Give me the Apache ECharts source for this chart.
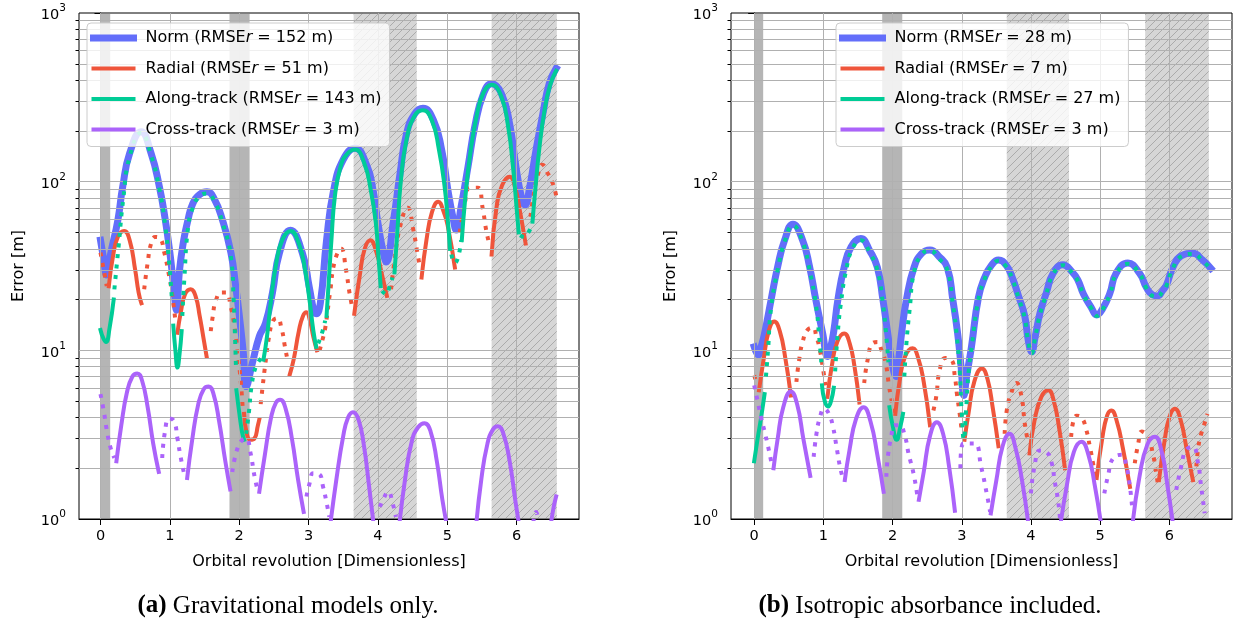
<!DOCTYPE html>
<html>
<head>
<meta charset="utf-8">
<script src="https://cdn.jsdelivr.net/npm/echarts@6/dist/echarts.min.js"></script>
<style>
  html, body { margin: 0; padding: 0; background: #fff; }
  #chart { width: 1233px; height: 628px; }
</style>
</head>
<body>
<div id="chart"></div>
<script>
// ---------------------------------------------------------------
// Position error of the propagated orbit over ~6.6 revolutions.
// Each component is split into segments: solid = positive error,
// dotted = negative error (plotted as magnitude on a log axis).
// Points are [orbital revolution, error in metres].
// ---------------------------------------------------------------

const componentNames = ['Norm', 'Radial', 'Along-track', 'Cross-track'];
const xTickValues = [0, 1, 2, 3, 4, 5, 6];
const yMinorTicks = [2, 3, 4, 5, 6, 7, 8, 9, 20, 30, 40, 50, 60, 70, 80, 90,
                     200, 300, 400, 500, 600, 700, 800, 900];
const yGridValues = [2, 3, 4, 5, 6, 7, 8, 9, 10, 20, 30, 40, 50, 60, 70, 80, 90, 100,
                     200, 300, 400, 500, 600, 700, 800, 900];

// ---------- (a) gravitational models only ----------
const gravRmse = [152, 51, 143, 3];
const gravDarkSpans = [[0, 0.14], [1.86, 2.15]];
const gravHatchSpans = [[3.65, 4.56], [5.64, 6.58]];

const gravNorm = [[
  [0, 45], [0.04, 36], [0.09, 28], [0.15, 38], [0.25, 59], [0.32, 93], [0.42, 147], [0.585, 198],
  [0.73, 147], [0.85, 93], [0.935, 59], [1.0, 38], [1.055, 24], [1.095, 17.3],
  [1.14, 30], [1.2, 45], [1.26, 59], [1.33, 74], [1.43, 84], [1.535, 87], [1.64, 79], [1.76, 59],
  [1.88, 38], [1.95, 24], [2.01, 15], [2.06, 9.6], [2.10, 6.1],
  [2.19, 8.4], [2.29, 12.1], [2.38, 14.5], [2.48, 22], [2.58, 37.8], [2.74, 51.5], [2.91, 37.8],
  [3.01, 23.8], [3.08, 16.9], [3.11, 16.5],
  [3.17, 19], [3.26, 45], [3.36, 88], [3.50, 135], [3.67, 158], [3.84, 125], [3.93, 89], [4.0, 57],
  [4.08, 37.6], [4.12, 33.4],
  [4.22, 57], [4.32, 112], [4.41, 190], [4.53, 252], [4.65, 272], [4.80, 232], [4.92, 154],
  [5.01, 89], [5.08, 62], [5.13, 51.7],
  [5.20, 71], [5.30, 123], [5.40, 215], [5.52, 330], [5.64, 381], [5.78, 334], [5.90, 220],
  [5.99, 123], [6.07, 81], [6.12, 72.7],
  [6.19, 93.5], [6.28, 154], [6.38, 254], [6.47, 381], [6.57, 470]
]];

const gravRadialPos = [
  [[0.12, 24], [0.18, 36], [0.25, 47], [0.34, 51], [0.42, 45], [0.50, 30], [0.55, 22], [0.59, 19]],
  [[1.11, 12.7], [1.16, 17], [1.22, 21.5], [1.30, 23], [1.37, 21], [1.43, 16], [1.49, 11.5], [1.53, 9.2]],
  [[2.07, 4.2], [2.11, 3.2], [2.16, 2.95], [2.22, 3.0], [2.27, 3.6], [2.29, 3.9]],
  [[2.73, 7.2], [2.79, 9], [2.86, 13], [2.92, 16], [2.97, 16.8], [3.02, 15], [3.07, 12], [3.12, 10]],
  [[3.66, 16.5], [3.74, 28], [3.81, 40], [3.89, 45], [3.98, 38], [4.06, 28], [4.13, 21]],
  [[4.63, 27], [4.70, 45], [4.78, 66], [4.87, 76], [4.95, 66], [5.01, 54], [5.11, 31]],
  [[5.64, 37], [5.71, 70], [5.79, 95], [5.90, 107], [5.98, 92], [6.04, 70], [6.13, 43]]
];
const gravRadialNeg = [
  [[0, 38], [0.04, 31], [0.09, 24]],
  [[0.63, 23], [0.68, 33], [0.73, 43], [0.79, 47], [0.86, 46], [0.92, 38], [0.98, 29], [1.03, 22], [1.08, 15]],
  [[1.59, 13], [1.62, 16], [1.66, 19.5], [1.74, 22], [1.81, 22], [1.88, 18], [1.93, 14], [1.98, 9.6],
   [2.02, 6.7], [2.05, 4.6]],
  [[2.31, 4.8], [2.34, 6.2], [2.38, 8.5], [2.43, 12], [2.49, 15], [2.55, 15.5], [2.61, 13.5], [2.66, 10.5],
   [2.70, 8.6]],
  [[3.16, 10], [3.20, 11.5], [3.24, 13.5], [3.31, 22], [3.38, 34], [3.47, 40], [3.54, 30], [3.59, 22], [3.63, 18]],
  [[4.19, 23], [4.24, 34], [4.32, 54], [4.43, 70], [4.51, 52], [4.56, 40], [4.60, 32]],
  [[5.18, 50], [5.24, 68], [5.33, 92], [5.44, 92], [5.51, 70], [5.56, 52], [5.61, 42]],
  [[6.20, 62], [6.25, 85], [6.32, 115], [6.37, 126], [6.45, 112], [6.52, 98], [6.57, 83]]
];

const gravAlongPos = [
  [[0, 13.2], [0.04, 11.8], [0.08, 11.2], [0.13, 13.5], [0.19, 20]],
  [[1.05, 14], [1.08, 10], [1.11, 7.9], [1.14, 9.5], [1.17, 13]],
  [[1.96, 5.8], [2.0, 4.3], [2.04, 3.3], [2.07, 2.95]],
  [[2.35, 8.8], [2.40, 12], [2.46, 20], [2.53, 32], [2.62, 45], [2.74, 51], [2.86, 43], [2.95, 30],
   [3.02, 19], [3.07, 13], [3.11, 10.5]],
  [[3.26, 16], [3.29, 25], [3.33, 45], [3.38, 82], [3.46, 122], [3.55, 145], [3.67, 155], [3.80, 130],
   [3.90, 88], [3.97, 57], [4.01, 35], [4.04, 24]],
  [[4.24, 29], [4.28, 50], [4.33, 100], [4.41, 175], [4.53, 246], [4.65, 265], [4.78, 230], [4.88, 155],
   [4.96, 95], [5.01, 58], [5.04, 40]],
  [[5.21, 45], [5.26, 80], [5.33, 145], [5.42, 240], [5.52, 335], [5.64, 375], [5.78, 320], [5.88, 210],
   [5.95, 120], [6.0, 70], [6.03, 50]],
  [[6.23, 58], [6.27, 90], [6.33, 160], [6.40, 260], [6.48, 370], [6.57, 455]]
];
const gravAlongNeg = [
  [[0.20, 23], [0.26, 41], [0.33, 80], [0.42, 140], [0.585, 195], [0.73, 143], [0.85, 90], [0.93, 56],
   [0.99, 33], [1.03, 20]],
  [[1.18, 16], [1.21, 27], [1.26, 52], [1.33, 70], [1.43, 82], [1.535, 85], [1.64, 77], [1.76, 57],
   [1.88, 36], [1.92, 20], [1.94, 12], [1.955, 7.5]],
  [[2.10, 3.2], [2.14, 4.3], [2.18, 6.2], [2.24, 8.0], [2.32, 9.0]],
  [[3.14, 11], [3.19, 12.5], [3.24, 15]],
  [[4.06, 22.5], [4.12, 21.5], [4.17, 24], [4.21, 27]],
  [[5.06, 37], [5.11, 33], [5.16, 36], [5.20, 45]],
  [[6.05, 48], [6.11, 47], [6.17, 50], [6.21, 54]]
];

const gravCrossPos = [
  [[0.23, 2.2], [0.3, 3.6], [0.38, 5.6], [0.46, 7.0], [0.53, 7.3], [0.6, 6.6], [0.68, 4.6], [0.76, 2.8], [0.84, 1.9]],
  [[1.25, 1.75], [1.32, 2.9], [1.41, 4.8], [1.49, 5.9], [1.56, 6.1], [1.63, 5.5], [1.71, 3.8], [1.8, 2.2], [1.87, 1.5]],
  [[2.29, 1.45], [2.37, 2.4], [2.46, 4.0], [2.53, 4.9], [2.59, 5.1], [2.67, 4.5], [2.76, 3.0], [2.85, 1.7], [2.93, 1.1]],
  [[3.31, 0.9], [3.4, 1.7], [3.5, 3.1], [3.57, 4.0], [3.64, 4.3], [3.72, 3.9], [3.8, 2.7], [3.87, 1.6], [3.95, 0.85]],
  [[4.30, 0.85], [4.39, 1.7], [4.49, 2.9], [4.58, 3.5], [4.67, 3.7], [4.76, 3.3], [4.85, 2.2], [4.93, 1.3], [5.01, 0.85]],
  [[5.41, 0.85], [5.49, 1.7], [5.58, 2.8], [5.66, 3.4], [5.73, 3.55], [5.81, 3.2], [5.9, 2.2], [5.98, 1.3], [6.05, 0.85]],
  [[6.49, 0.9], [6.53, 1.15], [6.57, 1.36]]
];
const gravCrossNeg = [
  [[0, 5.5], [0.05, 4.3], [0.1, 3.2], [0.15, 2.6], [0.2, 2.3]],
  [[0.89, 2.3], [0.93, 3.3], [0.99, 3.95], [1.06, 3.8], [1.11, 3.0], [1.15, 2.4], [1.2, 1.9]],
  [[1.9, 1.9], [1.96, 2.5], [2.03, 2.9], [2.1, 3.0], [2.16, 2.5], [2.22, 1.8], [2.27, 1.45]],
  [[2.97, 1.36], [3.01, 1.6], [3.07, 1.87], [3.15, 1.85], [3.21, 1.55], [3.26, 1.25], [3.3, 1.03]],
  [[4.03, 1.18], [4.08, 1.32], [4.15, 1.45], [4.21, 1.25], [4.26, 1.03]],
  [[6.24, 0.95], [6.28, 1.1], [6.32, 0.95]]
];

// ---------- (b) isotropic absorbance included ----------
const absRmse = [28, 7, 27, 3];
const absDarkSpans = [[0, 0.13], [1.85, 2.14]];
const absHatchSpans = [[3.65, 4.55], [5.65, 6.57]];

const absNorm = [[
  [0, 10.5], [0.06, 9.4], [0.1, 10.5], [0.15, 12.6], [0.245, 20], [0.34, 31.4], [0.44, 45], [0.56, 56],
  [0.70, 45], [0.80, 31.4], [0.89, 20], [0.99, 12.6], [1.06, 9.2],
  [1.1, 10.2], [1.15, 13], [1.21, 20], [1.30, 31], [1.40, 41], [1.54, 46], [1.67, 39], [1.78, 31],
  [1.86, 20], [1.93, 12.6], [1.99, 8.5], [2.05, 7.0],
  [2.09, 9], [2.13, 12.6], [2.20, 20], [2.31, 31], [2.42, 37.5], [2.54, 39.4], [2.67, 36], [2.79, 31],
  [2.87, 20], [2.94, 12.6], [2.99, 8], [3.03, 5.4],
  [3.07, 7], [3.14, 10.5], [3.24, 20.5], [3.33, 27], [3.43, 32], [3.53, 34.3], [3.64, 32], [3.73, 27],
  [3.82, 21], [3.91, 16], [3.96, 11.5], [4.01, 9.8],
  [4.06, 12], [4.13, 16.6], [4.22, 21.8], [4.32, 28.6], [4.46, 32.2], [4.60, 29], [4.68, 26], [4.76, 21.5],
  [4.87, 18], [4.95, 16.2],
  [5.03, 17.5], [5.14, 21.8], [5.23, 28.6], [5.40, 32.9], [5.57, 28.6], [5.67, 23.5], [5.76, 21.3], [5.83, 21.0],
  [5.90, 22.5], [5.96, 24.5], [6.05, 31], [6.17, 36.3], [6.34, 37.6], [6.48, 34.3], [6.60, 30.6]
]];

const absRadialPos = [
  [[0.07, 5.8], [0.14, 9], [0.21, 13], [0.29, 14.8], [0.37, 13], [0.45, 9], [0.53, 5.4]],
  [[1.06, 5.3], [1.12, 8], [1.2, 11.2], [1.30, 12.6], [1.38, 11], [1.45, 8], [1.52, 4.9]],
  [[2.04, 4.2], [2.1, 6.5], [2.18, 9.2], [2.29, 10.3], [2.37, 9], [2.45, 6.5], [2.54, 3.6]],
  [[3.04, 2.95], [3.1, 4.3], [3.18, 6.5], [3.29, 7.8], [3.37, 6.8], [3.45, 4.5], [3.53, 2.7]],
  [[3.98, 2.45], [4.05, 3.8], [4.15, 5.3], [4.25, 5.8], [4.33, 5.0], [4.41, 3.4], [4.49, 2.0]],
  [[4.95, 1.75], [5.03, 3.0], [5.10, 4.1], [5.16, 4.4], [5.24, 3.8], [5.33, 2.6], [5.43, 1.55]],
  [[5.85, 1.7], [5.93, 2.9], [6.0, 4.0], [6.08, 4.5], [6.16, 3.9], [6.25, 2.6], [6.34, 1.7]]
];
const absRadialNeg = [
  [[0, 7.1], [0.04, 6.3]],
  [[0.61, 6.5], [0.65, 8.8], [0.70, 11.2], [0.77, 13.2], [0.85, 13.6], [0.9, 12], [0.94, 10.5], [0.99, 8], [1.03, 6.2]],
  [[1.59, 6.4], [1.64, 8.8], [1.71, 11], [1.78, 11.2], [1.84, 10], [1.90, 8.4], [1.95, 6.1], [2.0, 4.65], [2.02, 3.9]],
  [[2.59, 4.4], [2.63, 5.3], [2.68, 7.6], [2.76, 9], [2.85, 8.8], [2.90, 7], [2.93, 5.5], [2.97, 4.2], [3.0, 3.3]],
  [[3.62, 3.2], [3.65, 4.4], [3.71, 5.5], [3.79, 6.4], [3.86, 5.4], [3.91, 3.7], [3.95, 2.95]],
  [[4.58, 3.07], [4.66, 4.1], [4.73, 4.0], [4.80, 3.37], [4.85, 2.7], [4.90, 2.1], [4.93, 1.75]],
  [[5.50, 2.14], [5.55, 2.8], [5.60, 3.3], [5.69, 3.07], [5.76, 2.45], [5.81, 1.87], [5.83, 1.65]],
  [[6.39, 2.05], [6.42, 2.7], [6.46, 3.2], [6.51, 3.7], [6.55, 4.2]]
];

const absAlongPos = [
  [[0, 2.2], [0.05, 3.0], [0.1, 4.0], [0.15, 5.5]],
  [[0.98, 6.2], [1.02, 5.0], [1.07, 4.65], [1.11, 5.0], [1.15, 6]],
  [[1.955, 4.6], [2.0, 3.6], [2.06, 2.95], [2.11, 3.5], [2.15, 4.2]]
];
const absAlongNeg = [
  [[0.17, 7], [0.2, 10], [0.245, 18], [0.34, 30], [0.44, 44], [0.56, 55], [0.70, 44], [0.80, 30], [0.89, 19],
   [0.94, 12], [0.97, 8.5]],
  [[1.17, 7.5], [1.21, 13], [1.26, 20], [1.33, 30], [1.42, 40], [1.54, 45], [1.67, 38], [1.78, 30], [1.86, 19],
   [1.91, 12], [1.94, 8.5]],
  [[2.17, 7], [2.2, 11], [2.25, 18], [2.31, 29], [2.42, 37], [2.54, 39], [2.67, 35], [2.79, 30], [2.87, 19],
   [2.93, 12], [2.97, 7.5], [3.0, 4.2], [3.03, 2.95], [3.06, 4.3], [3.1, 7.5], [3.15, 11], [3.24, 20],
   [3.33, 26.5], [3.43, 31.5], [3.53, 34], [3.64, 31.5], [3.73, 26.5], [3.82, 20.5], [3.91, 15.5], [3.96, 11.3],
   [4.01, 9.6], [4.06, 11.8], [4.13, 16.3], [4.22, 21.5], [4.32, 28.3], [4.46, 32], [4.60, 28.7], [4.68, 25.7],
   [4.76, 21.3], [4.87, 17.8], [4.95, 16], [5.03, 17.3], [5.14, 21.5], [5.23, 28.3], [5.40, 32.6], [5.57, 28.3],
   [5.67, 23.3], [5.76, 21], [5.83, 20.8], [5.90, 22.3], [5.96, 24.3], [6.05, 30.7], [6.17, 36], [6.34, 37.3],
   [6.48, 34], [6.60, 30.3]]
];

const absCrossPos = [
  [[0.28, 2.0], [0.34, 3.0], [0.42, 4.6], [0.53, 5.7], [0.62, 4.8], [0.71, 3.0], [0.81, 1.8]],
  [[1.31, 1.7], [1.38, 2.6], [1.47, 3.9], [1.58, 4.6], [1.68, 3.8], [1.78, 2.4], [1.87, 1.45]],
  [[2.38, 1.3], [2.45, 1.9], [2.54, 3.1], [2.64, 3.75], [2.73, 3.2], [2.82, 2.0], [2.90, 1.12]],
  [[3.42, 1.08], [3.50, 1.7], [3.59, 2.7], [3.69, 3.2], [3.78, 2.6], [3.87, 1.7], [3.96, 0.95]],
  [[4.43, 0.95], [4.52, 1.6], [4.62, 2.5], [4.73, 2.87], [4.83, 2.4], [4.92, 1.6], [5.01, 0.95]],
  [[5.47, 0.95], [5.57, 1.8], [5.68, 2.75], [5.79, 3.07], [5.89, 2.5], [5.97, 1.6], [6.05, 0.95]]
];
const absCrossNeg = [
  [[0, 6.2], [0.05, 5.0], [0.10, 4.0], [0.15, 3.3], [0.2, 2.7], [0.25, 2.15]],
  [[0.86, 2.34], [0.90, 3.2], [0.95, 4.0], [1.01, 4.5], [1.08, 4.2], [1.14, 3.5], [1.19, 2.68], [1.24, 2.04], [1.29, 1.7]],
  [[1.91, 1.78], [1.93, 2.3], [1.98, 3.07], [2.03, 3.6], [2.10, 3.6], [2.18, 3.07], [2.23, 2.45], [2.31, 1.8], [2.36, 1.35]],
  [[2.98, 2.0], [3.02, 2.8], [3.09, 2.8], [3.19, 2.8], [3.28, 2.04], [3.36, 1.42], [3.41, 1.1]],
  [[4.0, 1.42], [4.05, 2.04], [4.13, 2.55], [4.22, 2.5], [4.30, 2.14], [4.34, 1.7], [4.39, 1.3], [4.42, 1.0]],
  [[5.06, 1.42], [5.11, 1.78], [5.19, 2.3], [5.31, 2.4], [5.38, 2.04], [5.43, 1.55], [5.46, 1.2]],
  [[6.10, 1.49], [6.17, 2.04], [6.24, 2.55], [6.34, 2.68], [6.41, 2.19], [6.46, 1.55], [6.51, 1.08]]
];

// ---------------------------------------------------------------
const COLORS = { norm: '#636EFA', radial: '#EF553B', along: '#00CC96', cross: '#AB63FA' };
const FONT = 'DejaVu Sans';
const DOTS = [4, 6.5];

const panels = [
  { grid: { left: 79, top: 13, width: 500, height: 506 }, xRange: [-0.31, 6.9], legendLeft: 87,
    rmse: gravRmse, dark: gravDarkSpans, hatch: gravHatchSpans,
    norm: gravNorm, radialPos: gravRadialPos, radialNeg: gravRadialNeg,
    alongPos: gravAlongPos, alongNeg: gravAlongNeg, crossPos: gravCrossPos, crossNeg: gravCrossNeg,
    caption: ['(a)', 'Gravitational models only.'], captionX: 288 },
  { grid: { left: 731, top: 13, width: 501, height: 506 }, xRange: [-0.335, 6.905], legendLeft: 836,
    rmse: absRmse, dark: absDarkSpans, hatch: absHatchSpans,
    norm: absNorm, radialPos: absRadialPos, radialNeg: absRadialNeg,
    alongPos: absAlongPos, alongNeg: absAlongNeg, crossPos: absCrossPos, crossNeg: absCrossNeg,
    caption: ['(b)', 'Isotropic absorbance included.'], captionX: 930 }
];

// diagonal hatch fill for the shaded spans
function makeHatch() {
  const s = 8;
  const c = document.createElement('canvas');
  c.width = s; c.height = s;
  const g = c.getContext('2d');
  g.fillStyle = 'rgba(128,128,128,0.32)';
  g.fillRect(0, 0, s, s);
  g.strokeStyle = 'rgba(110,110,110,0.45)';
  g.lineWidth = 0.9;
  g.beginPath();
  g.moveTo(0, s); g.lineTo(s, 0);
  g.moveTo(-s / 2, s / 2); g.lineTo(s / 2, -s / 2);
  g.moveTo(s / 2, s * 1.5); g.lineTo(s * 1.5, s / 2);
  g.stroke();
  return c;
}
const hatchCanvas = makeHatch();

// concatenate segments, breaking the line between them
function joinSegments(segs) {
  const out = [];
  segs.forEach((seg, k) => {
    if (k > 0) out.push([seg[0][0], '-']);
    seg.forEach(p => out.push(p));
  });
  return out;
}

function curve(i, name, color, width, dotted, segs, z) {
  return {
    type: 'line', name, xAxisIndex: i, yAxisIndex: 2 * i,
    data: joinSegments(segs), symbol: 'none', showSymbol: false,
    smooth: 0.5, connectNulls: false, clip: true,
    z, silent: true, animation: false,
    lineStyle: { color, width, type: dotted ? DOTS : 'solid', cap: dotted ? 'butt' : 'square', join: 'round' },
    itemStyle: { color },
    emphasis: { disabled: true }
  };
}

function gridLines(i) {
  return {
    type: 'line', xAxisIndex: i, yAxisIndex: 2 * i, data: [], z: 1, silent: true, symbol: 'none',
    markLine: {
      silent: true, symbol: ['none', 'none'], label: { show: false }, animation: false,
      lineStyle: { color: '#b0b0b0', width: 1, type: 'solid' },
      emphasis: { disabled: true },
      data: [...xTickValues.map(v => ({ xAxis: v })), ...yGridValues.map(v => ({ yAxis: v }))]
    }
  };
}

function bands(i, p) {
  const dark = p.dark.map(s => [{ xAxis: s[0], itemStyle: { color: 'rgba(128,128,128,0.58)' } }, { xAxis: s[1] }]);
  const hatch = p.hatch.map(s => [{ xAxis: s[0], itemStyle: { color: { image: hatchCanvas, repeat: 'repeat' } } }, { xAxis: s[1] }]);
  return {
    type: 'line', xAxisIndex: i, yAxisIndex: 2 * i, data: [], z: 2, silent: true, symbol: 'none',
    markArea: { silent: true, animation: false, label: { show: false }, emphasis: { disabled: true }, data: [...dark, ...hatch] }
  };
}

const series = [];
const xAxes = [];
const yAxes = [];
const legends = [];
const graphics = [];

panels.forEach((p, i) => {
  series.push(gridLines(i), bands(i, p));
  series.push(curve(i, 'Norm', COLORS.norm, 7, false, p.norm, 3));
  series.push(curve(i, 'Radial', COLORS.radial, 4, false, p.radialPos, 4));
  series.push(curve(i, 'Radial', COLORS.radial, 4, true, p.radialNeg, 4));
  series.push(curve(i, 'Along-track', COLORS.along, 4, false, p.alongPos, 5));
  series.push(curve(i, 'Along-track', COLORS.along, 4, true, p.alongNeg, 5));
  series.push(curve(i, 'Cross-track', COLORS.cross, 4, false, p.crossPos, 6));
  series.push(curve(i, 'Cross-track', COLORS.cross, 4, true, p.crossNeg, 6));

  xAxes.push({
    type: 'value', gridIndex: i, min: p.xRange[0], max: p.xRange[1],
    axisLine: { show: true, lineStyle: { color: '#000', width: 1 } },
    axisTick: { show: true, customValues: xTickValues, length: 6, lineStyle: { color: '#000', width: 1 } },
    axisLabel: { customValues: xTickValues, color: '#000', fontFamily: FONT, fontSize: 14.5, margin: 10 },
    splitLine: { show: false },
    name: 'Orbital revolution [Dimensionless]', nameLocation: 'middle', nameGap: 35,
    nameTextStyle: { color: '#000', fontFamily: FONT, fontSize: 16 }
  });
  yAxes.push({
    type: 'log', logBase: 10, gridIndex: i, min: 1, max: 1000,
    axisLine: { show: true, lineStyle: { color: '#000', width: 1 } },
    axisTick: { show: true, length: 6, lineStyle: { color: '#000', width: 1 } },
    axisLabel: {
      color: '#000', margin: 13,
      formatter: v => '{n|10}{s|' + Math.round(Math.log10(v)) + '}',
      rich: {
        n: { fontFamily: FONT, fontSize: 14.5, color: '#000', lineHeight: 20, verticalAlign: 'bottom' },
        s: { fontFamily: FONT, fontSize: 10.5, color: '#000', lineHeight: 20, verticalAlign: 'top' }
      }
    },
    splitLine: { show: false },
    name: 'Error [m]', nameLocation: 'middle', nameGap: 52,
    nameTextStyle: { color: '#000', fontFamily: FONT, fontSize: 16 }
  });
  yAxes.push({
    type: 'log', logBase: 10, gridIndex: i, min: 1, max: 1000, position: 'left',
    axisLine: { show: false }, axisLabel: { show: false }, splitLine: { show: false },
    axisTick: { show: true, customValues: yMinorTicks, length: 3.5, lineStyle: { color: '#000', width: 1 } }
  });

  legends.push({
    show: true, data: componentNames, orient: 'vertical', left: p.legendLeft, top: 23, z: 20,
    selectedMode: false, itemWidth: 40, itemHeight: 14, itemGap: 14.5,
    padding: [7, 8, 9, 3],
    backgroundColor: 'rgba(255,255,255,0.8)', borderColor: '#cccccc', borderWidth: 1, borderRadius: 4,
    lineStyle: { width: 'inherit' },
    itemStyle: { opacity: 0 },
    formatter: name => {
      const k = componentNames.indexOf(name);
      return '{t|' + name + ' (RMSE}{i|r}{t| = ' + p.rmse[k] + ' m)}';
    },
    textStyle: {
      color: '#000', fontFamily: FONT, fontSize: 16, lineHeight: 14, padding: [0, 0, 0, 7],
      rich: {
        t: { color: '#000', fontFamily: FONT, fontSize: 16, lineHeight: 14 },
        i: { color: '#000', fontFamily: FONT, fontSize: 16, lineHeight: 14, fontStyle: 'italic' }
      }
    }
  });

  graphics.push({
    type: 'text', x: p.captionX, y: 606, silent: true, z: 20,
    style: {
      text: '{b|' + p.caption[0] + '} ' + p.caption[1],
      fontFamily: 'Liberation Serif', fontSize: 25, fill: '#000',
      align: 'center', verticalAlign: 'middle', textAlign: 'center', textVerticalAlign: 'middle',
      rich: { b: { fontFamily: 'Liberation Serif', fontSize: 25, fontWeight: 'bold', fill: '#000' } }
    }
  });
});

const chart = echarts.init(document.getElementById('chart'), null, { renderer: 'canvas' });
chart.setOption({
  animation: false,
  backgroundColor: '#ffffff',
  grid: panels.map(p => Object.assign({
    show: true, borderColor: '#000', borderWidth: 1, backgroundColor: 'transparent',
    containLabel: false, outerBoundsMode: 'none'
  }, p.grid)),
  xAxis: xAxes,
  yAxis: yAxes,
  legend: legends,
  graphic: graphics,
  series
});
</script>
</body>
</html>
